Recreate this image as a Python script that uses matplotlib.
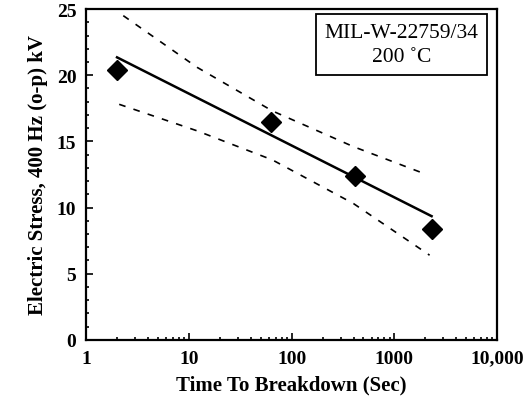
import matplotlib.pyplot as plt
from matplotlib.ticker import MultipleLocator, FixedLocator, FixedFormatter, LogLocator, NullFormatter

plt.rcParams['font.family'] = ['Liberation Serif', 'DejaVu Serif']

# measured breakdown points
time_s = [2.0, 63, 417, 2340]
stress_kv = [20.4, 16.5, 12.4, 8.35]

# fitted line
fit_t = [2.0, 2300]
fit_kv = [21.35, 9.35]

# confidence bands
upper_t = [2.3, 12, 65, 400, 2050]
upper_kv = [24.5, 20.6, 17.3, 14.6, 12.5]
lower_t = [2.1, 12, 65, 400, 2200]
lower_kv = [17.8, 15.8, 13.6, 10.3, 6.4]

xticks = [1, 10, 100, 1000, 10000]
xlabels = ['1', '10', '100', '1000', '10,000']

fig = plt.figure(figsize=(5.25, 4.02), dpi=100)
ax = fig.add_axes([0.164, 0.152, 0.783, 0.823])

ax.plot(fit_t, fit_kv, color='black', lw=1.8)
ax.plot(upper_t, upper_kv, color='black', lw=1.2, ls=(0, (4, 5)))
ax.plot(lower_t, lower_kv, color='black', lw=1.2, ls=(0, (4, 5)))
ax.plot(time_s, stress_kv, 'D', color='black', ms=10)

ax.set_xscale('log')
ax.set_xlim(1, 10000)
ax.set_ylim(0, 25)
ax.xaxis.set_major_locator(FixedLocator(xticks))
ax.xaxis.set_major_formatter(FixedFormatter(xlabels))
ax.xaxis.set_minor_locator(LogLocator(base=10, subs=range(2, 10)))
ax.xaxis.set_minor_formatter(NullFormatter())
ax.yaxis.set_major_locator(MultipleLocator(5))
ax.yaxis.set_minor_locator(MultipleLocator(1))

ax.tick_params(which='both', direction='in', width=1.2)
ax.tick_params(which='major', length=5, labelsize=14, pad=7)
ax.tick_params(which='minor', length=2.5)
for lbl in ax.get_xticklabels() + ax.get_yticklabels():
    lbl.set_fontweight('bold')
for s in ax.spines.values():
    s.set_linewidth(1.6)

ax.set_xlabel('Time To Breakdown (Sec)', fontsize=15, fontweight='bold', labelpad=6)
ax.set_ylabel('Electric Stress, 400 Hz (o-p) kV', fontsize=15, fontweight='bold', labelpad=6)

ax.text(0.768, 0.893, 'MIL-W-22759/34\n200 \u02daC', transform=ax.transAxes,
        ha='center', va='center', fontsize=15.5, linespacing=1.4,
        bbox=dict(boxstyle='square,pad=0.4', fc='white', ec='black', lw=1.3))

fig.savefig('out.png', dpi=100)
